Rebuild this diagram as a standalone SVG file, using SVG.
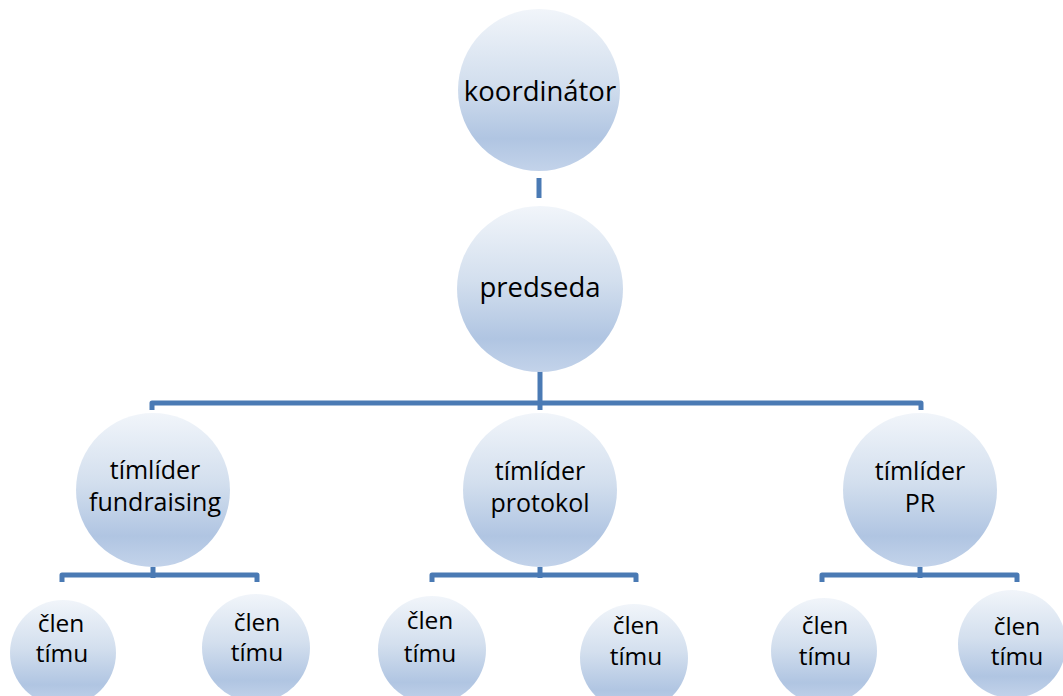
<svg xmlns="http://www.w3.org/2000/svg" width="1063" height="696" viewBox="0 0 1063 696">
<defs>
<linearGradient id="g" x1="0" y1="0" x2="0" y2="1">
<stop offset="0" stop-color="#f1f5fa"/>
<stop offset="0.45" stop-color="#d3dfee"/>
<stop offset="0.8" stop-color="#b0c5e2"/>
<stop offset="1" stop-color="#c3d3ea"/>
</linearGradient>
</defs>
<style>
.n{fill:url(#g);}
.t{font-family:"Open Sans","Noto Sans",sans-serif;font-size:25px;fill:#000;text-anchor:middle;}
.b{font-size:27.5px;}
.s{font-size:24.5px;}
.c{fill:none;stroke:#4a7ab4;stroke-width:5;stroke-linejoin:round;}
</style>
<rect width="1063" height="696" fill="#fff"/>
<g id="connectors">
<path class="c" d="M539,178 V198"/>
<path class="c" d="M540,371 V410"/>
<path class="c" d="M152,410 V403 H921 V410"/>
<path class="c" d="M153,567 V578"/>
<path class="c" d="M62,582 V575 H257 V582"/>
<path class="c" d="M540,567 V578"/>
<path class="c" d="M432,582 V575 H636 V582"/>
<path class="c" d="M920,567 V578"/>
<path class="c" d="M822,582 V575 H1017 V582"/>
</g>
<g id="koordinator"><circle class="n" cx="539" cy="90" r="81"/><text class="t b" x="540" y="101">koordinátor</text></g>
<g id="predseda"><circle class="n" cx="540" cy="289" r="83"/><text class="t b" x="540" y="297">predseda</text></g>
<g id="tl-fundraising"><circle class="n" cx="153" cy="490" r="77"/><text class="t" x="155" y="479">tímlíder</text><text class="t" x="155" y="511">fundraising</text></g>
<g id="tl-protokol"><circle class="n" cx="540" cy="490" r="77"/><text class="t" x="540" y="480">tímlíder</text><text class="t" x="540" y="512">protokol</text></g>
<g id="tl-pr"><circle class="n" cx="920" cy="490" r="77"/><text class="t" x="920" y="480">tímlíder</text><text class="t" x="920" y="512">PR</text></g>
<g id="m1"><circle class="n" cx="63" cy="653" r="53"/><text class="t s" x="61" y="632">člen</text><text class="t s" x="62" y="662">tímu</text></g>
<g id="m2"><circle class="n" cx="256" cy="648" r="54"/><text class="t s" x="257" y="631">člen</text><text class="t s" x="257" y="661">tímu</text></g>
<g id="m3"><circle class="n" cx="432" cy="650" r="54"/><text class="t s" x="430" y="629">člen</text><text class="t s" x="430" y="662">tímu</text></g>
<g id="m4"><circle class="n" cx="634" cy="658" r="54"/><text class="t s" x="636" y="634">člen</text><text class="t s" x="636" y="665">tímu</text></g>
<g id="m5"><circle class="n" cx="824" cy="651" r="53"/><text class="t s" x="825" y="634">člen</text><text class="t s" x="825" y="665">tímu</text></g>
<g id="m6"><circle class="n" cx="1012" cy="644" r="54"/><text class="t s" x="1017" y="635">člen</text><text class="t s" x="1017" y="665">tímu</text></g>
</svg>
